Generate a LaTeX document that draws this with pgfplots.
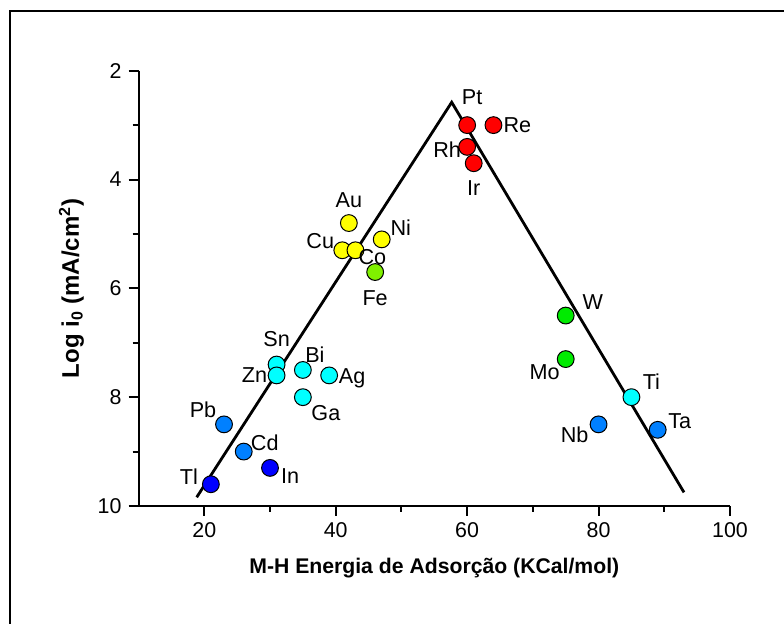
\documentclass[border=0pt]{standalone}
\usepackage{pgfplots}
\pgfplotsset{compat=1.18}
\usepackage{pgfplotstable}
\usepackage{fontspec}
\setmainfont{Liberation Sans}
\pgfplotstableread{
x y lab dx dy
21 9.6 Tl -11 4
30 9.3 In 10 -4
}\darkblue
\pgfplotstableread{
x y lab dx dy
23 8.5 Pb -10.5 7.5
26 9.0 Cd 10.5 4.5
80 8.5 Nb -12 -5
89 8.6 Ta 11 4.5
}\midblue
\pgfplotstableread{
x y lab dx dy
31 7.4 Sn 0 12.5
31 7.6 Zn -11 0
35 7.5 Bi 6 7.5
39 7.6 Ag 11.5 -1.5
35 8.0 Ga 11.5 -8
85 8.0 Ti 10 7.5
}\cyanset
\pgfplotstableread{
x y lab dx dy
75 6.5 W 13.5 6.5
75 7.3 Mo -10.5 -6.5
}\greenset
\pgfplotstableread{
x y lab dx dy
46 5.7 Fe 0 -13
}\limeset
\pgfplotstableread{
x y lab dx dy
42 4.8 Au 0 11.5
41 5.3 Cu -11 4.5
43 5.3 Co 8.5 -3.5
47 5.1 Ni 9.5 6
}\yellowset
\pgfplotstableread{
x y lab dx dy
60 3.0 Pt 2.5 14
64 3.0 Re 12 0
60 3.4 Rh -10 -1.5
61 3.7 Ir 0 -12.5
}\redset
\pgfplotstableread{
x y
18.84 9.84
57.65 2.58
93.0 9.75
}\volcano
\definecolor{mblue}{RGB}{0,128,255}
\definecolor{dblue}{RGB}{0,0,255}
\definecolor{mcyan}{RGB}{0,255,255}
\definecolor{mgreen}{RGB}{0,235,0}
\definecolor{mlime}{RGB}{128,240,0}
\definecolor{myellow}{RGB}{255,255,0}
\definecolor{mred}{RGB}{255,0,0}
\pgfplotsset{
  metal/.style={
    only marks, mark=*, mark size=4.2pt,
    mark options={draw=black, fill=#1, line width=0.5pt},
    point meta=explicit symbolic,
    visualization depends on={\thisrow{dx} \as \dx},
    visualization depends on={\thisrow{dy} \as \dy},
    nodes near coords,
    every node near coord/.append style={anchor=center, xshift=\dx pt, yshift=\dy pt, font=\fontsize{10.8}{12}\selectfont, text=black},
  },
}
\begin{document}
\begin{tikzpicture}
\useasboundingbox (0,0) rectangle (392pt,312pt);
\draw[line width=1pt] (5pt,0) -- (5pt,306.5pt) -- (392pt,306.5pt);
\begin{axis}[
  at={(69.3pt,59pt)}, anchor=south west,
  scale only axis, width=295.7pt, height=217.65pt,
  xmin=10, xmax=100, ymin=2, ymax=10,
  y dir=reverse,
  axis x line*=bottom, axis y line*=left,
  x axis line style={-, line width=1pt},
  y axis line style={-, line width=1pt},
  xtick={20,40,60,80,100}, ytick={2,4,6,8,10},
  minor x tick num=1, minor y tick num=1,
  tick align=outside,
  major tick length=5pt, minor tick length=3pt,
  tick style={black, line width=1pt},
  every tick label/.append style={font=\fontsize{10.7}{12}\selectfont},
  /pgf/number format/assume math mode=true,
  xlabel={M-H Energia de Adsorção (KCal/mol)},
  ylabel={Log i\textsubscript{0} (mA/cm\textsuperscript{2})},
  x label style={font=\bfseries\fontsize{10.6}{12}\selectfont, yshift=-3pt},
  y label style={font=\bfseries\fontsize{12}{14}\selectfont},
  clip=false,
]
\addplot[metal=dblue] table[x=x, y=y, meta=lab] {\darkblue};
\addplot[metal=mblue] table[x=x, y=y, meta=lab] {\midblue};
\addplot[metal=mcyan] table[x=x, y=y, meta=lab] {\cyanset};
\addplot[metal=mgreen] table[x=x, y=y, meta=lab] {\greenset};
\addplot[metal=mlime] table[x=x, y=y, meta=lab] {\limeset};
\addplot[metal=myellow] table[x=x, y=y, meta=lab] {\yellowset};
\addplot[metal=mred] table[x=x, y=y, meta=lab] {\redset};
\addplot[black, line width=1.4pt, no marks] table[x=x, y=y] {\volcano};
\end{axis}
\end{tikzpicture}
\end{document}
